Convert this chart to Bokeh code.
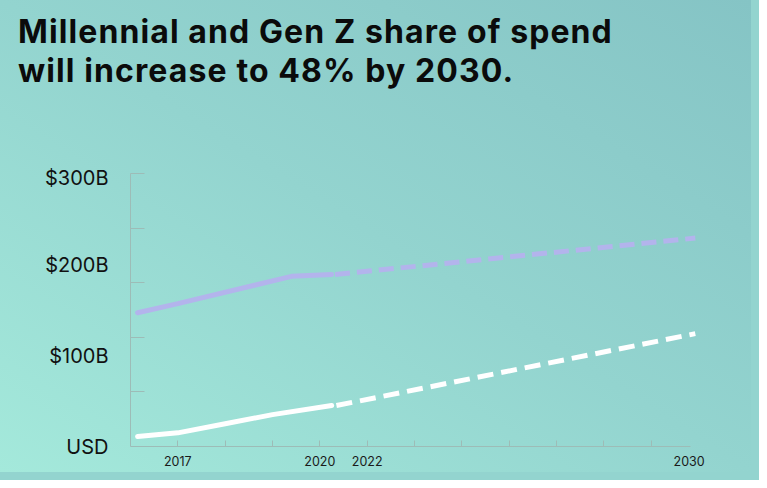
from bokeh.plotting import figure
from bokeh.models import FixedTicker, Range1d, Div
from bokeh.layouts import column
from bokeh.embed import file_html
from bokeh.resources import INLINE

# ---- data (x = axis slot, one slot per tick mark; y = $ billions) ----
x_tick_pos = [1, 4, 5, 11.8]
x_tick_labels = ["2017", "2020", "2022", "2030"]
x_minor_pos = [1, 2, 3, 4, 5, 6, 7, 8, 9, 10, 11]

y_tick_pos = [0, 100, 200, 300]
y_tick_labels = ["USD", "$100B", "$200B", "$300B"]
y_minor_pos = [60, 120, 180, 240, 300]

purple_actual_x = [0.15, 1.0, 3.4, 4.25]
purple_actual_y = [147, 157, 187, 189]
purple_proj_x = [4.32, 11.93]
purple_proj_y = [189, 229]

white_actual_x = [0.15, 1.0, 2.0, 3.0, 4.25]
white_actual_y = [11, 15, 25, 35, 45]
white_proj_x = [4.35, 11.93]
white_proj_y = [45, 124]

title_lines = ["Millennial and Gen Z share of spend",
               "will increase to 48% by 2030."]

FONT = "Inter"
AXIS_COLOR = "#9dbcb7"
W = 751
TITLE_H = 165
PLOT_H = 472 - TITLE_H

title_html = ('<div style="font-family: Inter, sans-serif; font-weight: 700; '
              'font-size: 32px; line-height: 39px; color: #0b0b0b; '
              'letter-spacing: 1.1px; padding: 12px 0 0 18px; white-space: nowrap;">'
              + "<br>".join(title_lines) + "</div>")
title = Div(text=title_html, width=W, height=TITLE_H, margin=0)

p = figure(width=W, height=PLOT_H, output_backend="svg", toolbar_location=None,
           x_range=Range1d(0, 12.04), y_range=Range1d(0, 300),
           min_border_left=130, min_border_right=51,
           min_border_top=8, min_border_bottom=26)
p.border_fill_color = None
p.background_fill_color = None
p.outline_line_color = None
p.grid.visible = False

# x axis
xa = p.xaxis[0]
xa.ticker = FixedTicker(ticks=x_tick_pos, minor_ticks=x_minor_pos)
xa.major_label_overrides = {k: v for k, v in zip(x_tick_pos, x_tick_labels)}
xa.bounds = (0, 11.82)
xa.major_tick_in = 0
xa.major_tick_out = 0
xa.minor_tick_in = 6
xa.minor_tick_out = 0
xa.minor_tick_line_color = AXIS_COLOR
xa.axis_line_color = AXIS_COLOR
xa.major_label_standoff = 9
xa.major_label_text_font = FONT
xa.major_label_text_font_size = "12.5px"
xa.major_label_text_color = "#1a1a1a"

# y axis
ya = p.yaxis[0]
ya.ticker = FixedTicker(ticks=y_tick_pos, minor_ticks=y_minor_pos)
ya.major_label_overrides = {k: v for k, v in zip(y_tick_pos, y_tick_labels)}
ya.major_tick_in = 0
ya.major_tick_out = 0
ya.minor_tick_in = 14
ya.minor_tick_out = 0
ya.minor_tick_line_color = AXIS_COLOR
ya.axis_line_color = AXIS_COLOR
ya.major_label_standoff = 22
ya.major_label_text_font = FONT
ya.major_label_text_font_size = "20px"
ya.major_label_text_color = "#111111"

# lines
PURPLE = "#b3b4ec"
p.line(purple_actual_x, purple_actual_y, line_color=PURPLE, line_width=5, line_cap="round")
p.line(purple_proj_x, purple_proj_y, line_color=PURPLE, line_width=5, line_dash="15 7")
p.line(white_actual_x, white_actual_y, line_color="white", line_width=5, line_cap="round")
p.line(white_proj_x, white_proj_y, line_color="white", line_width=5, line_dash="16 8")

layout = column(title, p, spacing=0,
                styles={"background": "linear-gradient(to top right, #a4e9db 0%, #93d4cf 50%, #85c4c5 100%)",
                        "box-shadow": "0 0 0 8px #93d4cf"})

open("out.html", "w").write(file_html(layout, INLINE))
